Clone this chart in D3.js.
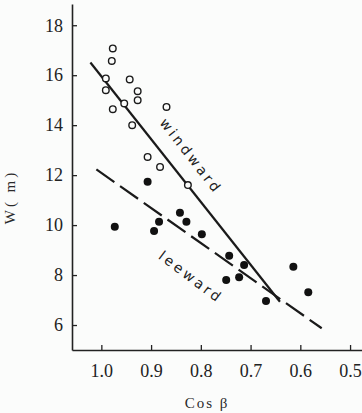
<!DOCTYPE html>
<html>
<head>
<meta charset="utf-8">
<script src="https://cdn.jsdelivr.net/npm/d3@7"></script>
<style>
  body { margin: 0; background: #fbfcfb; }
  svg { display: block; }
</style>
</head>
<body>
<div id="chart"></div>
<script>
// open circles, windward (cos beta, W)
const windwardCos = [0.977, 0.979, 0.991, 0.991, 0.977, 0.954, 0.943, 0.927, 0.927, 0.938, 0.869, 0.907, 0.882, 0.826];
const windwardW   = [17.07, 16.57, 15.87, 15.40, 14.64, 14.87, 15.83, 15.36, 15.00, 14.00, 14.73, 12.73, 12.33, 11.60];

// filled dots, leeward
const leewardCos = [0.907, 0.973, 0.884, 0.894, 0.842, 0.829, 0.798, 0.743, 0.713, 0.749, 0.723, 0.669, 0.614, 0.584];
const leewardW   = [11.73, 9.93, 10.13, 9.76, 10.49, 10.13, 9.63, 8.77, 8.40, 7.80, 7.91, 6.96, 8.33, 7.31];

// fitted lines, end points
const windwardFit = [[1.022, 16.51], [0.641, 6.93]];
const leewardFit  = [[1.010, 12.23], [0.557, 5.87]];

const xTicks = [1.0, 0.9, 0.8, 0.7, 0.6, 0.5];
const yTicks = [6, 8, 10, 12, 14, 16, 18];

const width = 362, height = 413;
const serif = "Liberation Serif, DejaVu Serif, serif";

const svg = d3.select("#chart").append("svg")
    .attr("width", width)
    .attr("height", height);

// cos beta runs right to left
const x = d3.scaleLinear().domain([1.059, 0.476]).range([72, 362]);
const y = d3.scaleLinear().domain([5, 18.85]).range([350, 4]);

// axes, ticks point inwards
const xAxis = svg.append("g")
    .attr("transform", "translate(0," + y(5) + ")")
    .call(d3.axisBottom(x).tickValues(xTicks).tickFormat(d3.format(".1f"))
        .tickSize(-5).tickSizeOuter(0).tickPadding(14));

const yAxis = svg.append("g")
    .attr("transform", "translate(" + x(1.059) + ",0)")
    .call(d3.axisLeft(y).tickValues(yTicks).tickSize(-5).tickSizeOuter(0).tickPadding(9));

[xAxis, yAxis].forEach(function(a) {
    a.attr("font-family", serif).attr("font-size", 18);
    a.select(".domain").attr("stroke", "#222").attr("stroke-width", 1.6);
    a.selectAll(".tick line").attr("stroke", "#222").attr("stroke-width", 1.3);
    a.selectAll(".tick text").attr("fill", "#222");
});

// axis titles
svg.append("text")
    .attr("x", 207)
    .attr("y", 408)
    .attr("text-anchor", "middle")
    .attr("font-family", serif)
    .attr("font-size", 15)
    .style("letter-spacing", "2px")
    .attr("fill", "#2a2a2a")
    .text("Cos  β");

svg.append("text")
    .attr("transform", "translate(15,197) rotate(-90)")
    .attr("text-anchor", "middle")
    .attr("font-family", serif)
    .attr("font-size", 15)
    .style("letter-spacing", "3px")
    .attr("fill", "#2a2a2a")
    .text("W( m)");

// fit lines
const line = d3.line().x(d => x(d[0])).y(d => y(d[1]));

svg.append("path")
    .datum(windwardFit)
    .attr("d", line)
    .attr("fill", "none")
    .attr("stroke", "#1a1a1a")
    .attr("stroke-width", 2.2);

svg.append("path")
    .datum(leewardFit)
    .attr("d", line)
    .attr("fill", "none")
    .attr("stroke", "#1a1a1a")
    .attr("stroke-width", 2.2)
    .attr("stroke-dasharray", "22,7");

// points
const windward = windwardCos.map((c, i) => ({c: c, w: windwardW[i]}));
const leeward = leewardCos.map((c, i) => ({c: c, w: leewardW[i]}));

svg.append("g").selectAll("circle")
    .data(windward).enter()
    .append("circle")
    .attr("cx", d => x(d.c))
    .attr("cy", d => y(d.w))
    .attr("r", 3.3)
    .attr("fill", "#fbfcfb")
    .attr("stroke", "#1a1a1a")
    .attr("stroke-width", 1.4);

svg.append("g").selectAll("circle")
    .data(leeward).enter()
    .append("circle")
    .attr("cx", d => x(d.c))
    .attr("cy", d => y(d.w))
    .attr("r", 4)
    .attr("fill", "#111");

// line labels
svg.append("text")
    .attr("transform", "translate(191,156) rotate(52)")
    .attr("text-anchor", "middle")
    .attr("dy", "0.35em")
    .attr("font-family", "DejaVu Sans, sans-serif")
    .attr("font-size", 14)
    .style("letter-spacing", "3px")
    .attr("fill", "#222")
    .text("windward");

svg.append("text")
    .attr("transform", "translate(191,277) rotate(37)")
    .attr("text-anchor", "middle")
    .attr("dy", "0.35em")
    .attr("font-family", "DejaVu Sans, sans-serif")
    .attr("font-size", 14)
    .style("letter-spacing", "3px")
    .attr("fill", "#222")
    .text("leeward");
</script>
</body>
</html>
